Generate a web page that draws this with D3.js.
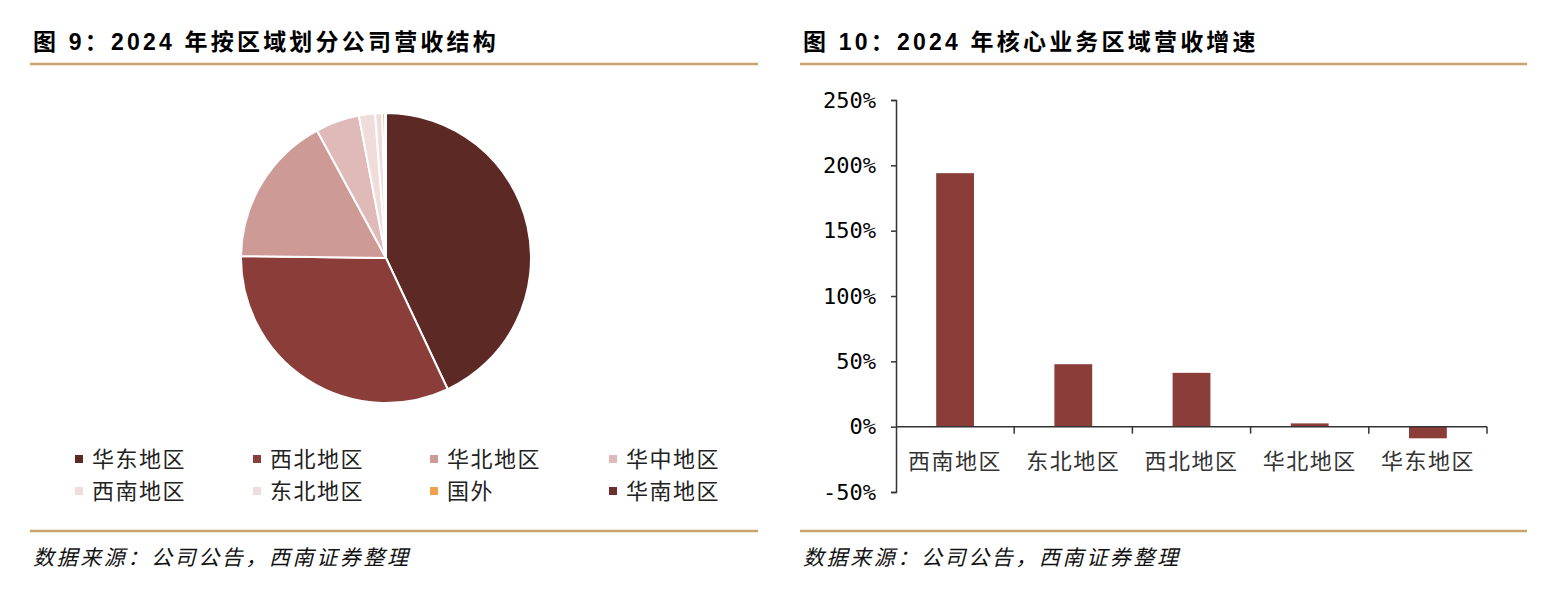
<!DOCTYPE html>
<html>
<head>
<meta charset="utf-8">
<script src="https://cdn.jsdelivr.net/npm/d3@7"></script>
<style>
  body { margin: 0; background: #fff; }
  svg { display: block; }
</style>
</head>
<body>
<svg id="chart" width="1564" height="590"></svg>
<script>
// 图9 饼图数据（%）
var pieRegions = ["华东地区", "西北地区", "华北地区", "华中地区", "西南地区", "东北地区", "国外", "华南地区"];
var pieShares = [43.0, 32.2, 16.9, 4.9, 1.8, 0.8, 0.3, 0.1];
var pieColors = ["#5c2925", "#8b3d3a", "#ce9a96", "#dfbab8", "#f0dcdb", "#eedddc", "#f0a050", "#6e2e2c"];

// 图10 柱状图数据（%）
var barRegions = ["西南地区", "东北地区", "西北地区", "华北地区", "华东地区"];
var barGrowth = [194, 47.8, 41.2, 2.5, -8.9];
var yTicks = [-50, 0, 50, 100, 150, 200, 250];

var svg = d3.select("#chart");
var cjk = "'Liberation Sans', 'Noto Sans CJK SC', sans-serif";
var gold = "#c9a46c";

// ---- 标题、分隔线、来源 ----
function panel(x0, x1, title) {
    svg.append("text")
        .attr("x", x0 + 3).attr("y", 50)
        .attr("font-family", cjk).attr("font-weight", "bold")
        .attr("font-size", 23).attr("letter-spacing", 3.2).attr("fill", "#000")
        .text(title);
    [64, 531].forEach(function(y) {
        svg.append("line")
            .attr("x1", x0).attr("x2", x1).attr("y1", y).attr("y2", y)
            .attr("stroke", gold).attr("stroke-width", 2.5);
    });
    svg.append("text")
        .attr("x", x0 + 3).attr("y", 565)
        .attr("font-family", "'Noto Sans CJK SC', sans-serif")
        .attr("font-style", "italic").attr("font-size", 21)
        .attr("letter-spacing", 2.6).attr("fill", "#111")
        .text("数据来源：公司公告，西南证券整理");
}
panel(30, 758, "图 9：2024 年按区域划分公司营收结构");
panel(800, 1527, "图 10：2024 年核心业务区域营收增速");

// ---- 饼图 ----
var pie = d3.pie().sort(null).value(function(d) { return d; });
var arc = d3.arc().innerRadius(0).outerRadius(145);

var pieG = svg.append("g").attr("transform", "translate(386,258)");
pieG.selectAll("path")
    .data(pie(pieShares))
    .enter()
    .append("path")
    .attr("d", arc)
    .attr("fill", function(d, i) { return pieColors[i]; })
    .attr("stroke", "#fff")
    .attr("stroke-width", 2);

// 图例
var legendX = d3.scaleOrdinal().domain([0, 1, 2, 3]).range([75, 253, 430, 609]);
var legendY = d3.scaleOrdinal().domain([0, 1]).range([459, 491]);

var legend = svg.append("g").selectAll("g")
    .data(pieRegions)
    .enter()
    .append("g")
    .attr("transform", function(d, i) {
        return "translate(" + legendX(i % 4) + "," + legendY(Math.floor(i / 4)) + ")";
    });
legend.append("rect")
    .attr("x", 0).attr("y", -4).attr("width", 8).attr("height", 8)
    .attr("fill", function(d, i) { return pieColors[i]; });
legend.append("text")
    .attr("x", 17).attr("y", 8)
    .attr("font-family", "'Noto Sans CJK SC', sans-serif")
    .attr("font-size", 22).attr("letter-spacing", 1.5).attr("fill", "#222")
    .text(function(d) { return d; });

// ---- 柱状图 ----
var x = d3.scaleBand()
    .domain(barRegions)
    .range([896, 1487])
    .paddingInner(0.68)
    .paddingOuter(0.34);

var y = d3.scaleLinear()
    .domain([-50, 250])
    .range([492, 100]);

var barG = svg.append("g");

barG.selectAll("rect")
    .data(barGrowth)
    .enter()
    .append("rect")
    .attr("x", function(d, i) { return x(barRegions[i]); })
    .attr("width", x.bandwidth())
    .attr("y", function(d) { return y(Math.max(0, d)); })
    .attr("height", function(d) { return Math.abs(y(d) - y(0)); })
    .attr("fill", "#8b3d3a");

// y 轴
var yAxis = barG.append("g")
    .attr("transform", "translate(896,0)")
    .call(d3.axisLeft(y).tickValues(yTicks).tickSize(5).tickPadding(15)
        .tickFormat(function(d) { return d + "%"; }));
yAxis.select(".domain").attr("stroke", "#333").attr("stroke-width", 1.5);
yAxis.selectAll(".tick line").attr("stroke", "#333").attr("stroke-width", 1.5);
yAxis.selectAll("text")
    .attr("font-family", "'DejaVu Sans Mono', monospace")
    .attr("font-size", 22).attr("fill", "#000");

// x 轴（零线）
var half = x.step() / 2;
var xAxis = barG.append("g").attr("transform", "translate(0," + y(0) + ")");
xAxis.append("line")
    .attr("x1", 896).attr("x2", 1487)
    .attr("stroke", "#333").attr("stroke-width", 1.5);
xAxis.selectAll(".tk")
    .data(barRegions)
    .enter()
    .append("line")
    .attr("class", "tk")
    .attr("x1", function(d) { return x(d) + x.bandwidth() / 2 + half; })
    .attr("x2", function(d) { return x(d) + x.bandwidth() / 2 + half; })
    .attr("y1", 0).attr("y2", 7)
    .attr("stroke", "#333").attr("stroke-width", 1.5);
xAxis.selectAll("text")
    .data(barRegions)
    .enter()
    .append("text")
    .attr("x", function(d) { return x(d) + x.bandwidth() / 2; })
    .attr("y", 42)
    .attr("text-anchor", "middle")
    .attr("font-family", "'Noto Sans CJK SC', sans-serif")
    .attr("font-size", 22).attr("letter-spacing", 1.5).attr("fill", "#333")
    .text(function(d) { return d; });
</script>
</body>
</html>
